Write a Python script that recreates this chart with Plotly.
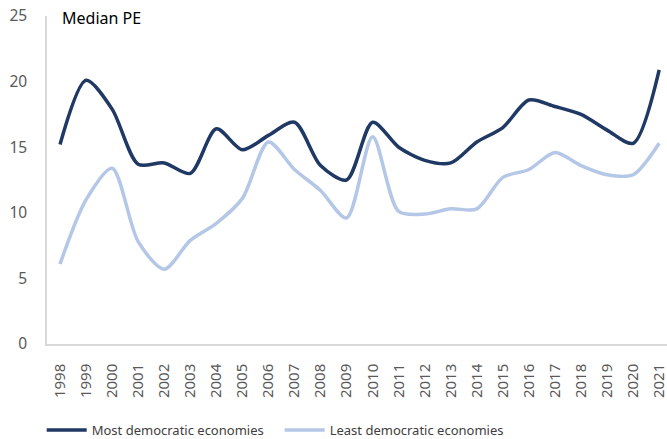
import plotly.graph_objects as go

years = [str(y) for y in range(1998, 2022)]
most_democratic = [15.2, 20.1, 17.9, 13.7, 13.8, 13.0, 16.4, 14.8, 15.9, 16.9, 13.6, 12.5,
                   16.9, 15.0, 14.0, 13.8, 15.4, 16.5, 18.6, 18.1, 17.5, 16.3, 15.3, 20.9]
least_democratic = [6.1, 11.0, 13.4, 7.8, 5.7, 7.9, 9.2, 11.1, 15.4, 13.3, 11.7, 9.6,
                    15.8, 10.1, 9.9, 10.3, 10.3, 12.7, 13.3, 14.6, 13.6, 12.9, 12.9, 15.3]
y_ticks = [0, 5, 10, 15, 20, 25]

fig = go.Figure()
fig.add_trace(go.Scatter(x=years, y=most_democratic, mode="lines",
                         name="Most democratic economies",
                         line=dict(color="#1f3864", width=3.5, shape="spline", smoothing=0.8)))
fig.add_trace(go.Scatter(x=years, y=least_democratic, mode="lines",
                         name="Least democratic economies",
                         line=dict(color="#b4c7e7", width=3.5, shape="spline", smoothing=0.8)))

fig.update_layout(
    width=667, height=439,
    margin=dict(l=47, r=0, t=16, b=95),
    paper_bgcolor="white", plot_bgcolor="white",
    font=dict(family="Noto Sans", color="#595959"),
    showlegend=True,
    legend=dict(orientation="h", x=0.0625, xanchor="left", xref="container",
                y=0.0547, yanchor="top", yref="container",
                bgcolor="rgba(0,0,0,0)", entrywidth=183,
                font=dict(size=13, color="#404040"), itemwidth=40),
    annotations=[dict(text="Median PE", x=0.021, y=0.994, xref="paper", yref="paper",
                      xanchor="left", yanchor="middle", showarrow=False,
                      font=dict(size=16, color="black"))],
)
fig.update_xaxes(type="category", range=[-0.5, 23.3], showline=True, linecolor="#d9d9d9",
                 linewidth=1.5, showgrid=False, ticks="", tickangle=-90, automargin=False,
                 ticklabeloverflow="allow",
                 tickfont=dict(size=15, color="#595959"), ticklabelstandoff=12)
fig.update_yaxes(range=[0, 25], tickvals=y_ticks, showline=True, linecolor="#d9d9d9",
                 linewidth=1.5, showgrid=False, ticks="", zeroline=False, automargin=False,
                 ticklabeloverflow="allow",
                 tickfont=dict(size=15.5, color="#595959"), ticklabelstandoff=15)

fig.write_html("out.html", config={"displayModeBar": False},
               post_script="document.body.style.margin='0';")
